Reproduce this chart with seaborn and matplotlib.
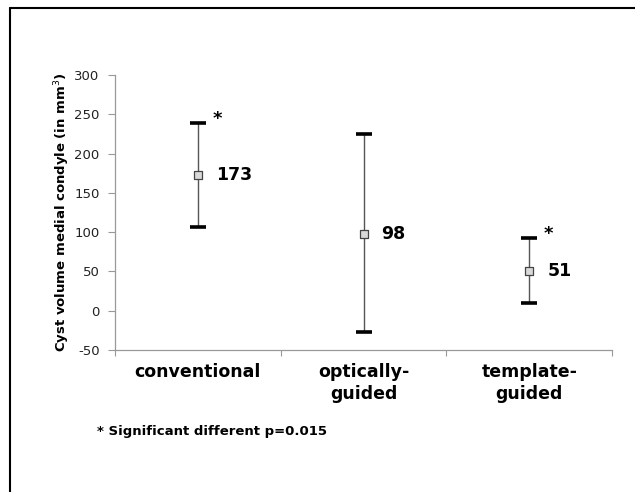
import numpy as np
import pandas as pd
import matplotlib
matplotlib.use("Agg")
import matplotlib.pyplot as plt
import seaborn as sns

# data
groups = ["conventional", "optically-\nguided", "template-\nguided"]
means = [173, 98, 51]
upper = [239, 225, 92]
lower = [107, -27, 10]
significant = [True, False, True]

df = pd.DataFrame({"pos": np.arange(len(groups)), "mean": means,
                   "upper": upper, "lower": lower})

sns.set_style("white")
plt.rcParams["font.family"] = ["DejaVu Sans"]
plt.rcParams["axes.unicode_minus"] = False
plt.rcParams["text.color"] = "black"
plt.rcParams["axes.labelcolor"] = "black"

fig = plt.figure(figsize=(6.35, 4.92), dpi=100)
ax = fig.add_axes([0.181, 0.2886, 0.783, 0.559])

# error bars: grey stems, thick black caps
err = ax.errorbar(df["pos"], df["mean"],
                  yerr=[df["mean"] - df["lower"], df["upper"] - df["mean"]],
                  fmt="none", ecolor="#555555", elinewidth=1.0,
                  capsize=5.5, capthick=2.6, zorder=2)
for cap in err[1]:
    cap.set_markeredgecolor("black")
    cap.set_markerfacecolor("black")

sns.scatterplot(data=df, x="pos", y="mean", marker="s", s=40,
                color="#d9d9d9", edgecolor="#444444", linewidth=0.9,
                ax=ax, zorder=3, legend=False)

# value labels and asterisks
for i, row in df.iterrows():
    ax.annotate(f"{row['mean']:.0f}", (row["pos"], row["mean"]),
                xytext=(13, 0), textcoords="offset points",
                ha="left", va="center", fontsize=12.5, fontweight="bold")
    if significant[i]:
        ax.annotate("*", (row["pos"], row["upper"]),
                    xytext=(14, 3), textcoords="offset points",
                    ha="center", va="center", fontsize=13, fontweight="bold")

ax.set_xlim(-0.5, 2.5)
ax.set_ylim(-50, 300)
ax.set_yticks(np.arange(-50, 301, 50))
ax.set_xticks([-0.5, 0.5, 1.5, 2.5])
ax.set_xticklabels([])
ax.set_xticks(np.arange(len(groups)), minor=True)
ax.set_xticklabels(groups, minor=True, fontsize=12.5, fontweight="bold",
                   linespacing=1.35, color="black")
ax.tick_params(axis="x", which="minor", length=0, pad=9)
ax.tick_params(axis="x", which="major", length=4, color="#999999",
               direction="out", bottom=True)
ax.tick_params(axis="y", length=5, color="#999999", direction="out",
               left=True, labelsize=9.5, labelcolor="#222222", pad=6)

for side in ["top", "right"]:
    ax.spines[side].set_visible(False)
for side in ["left", "bottom"]:
    ax.spines[side].set_color("#999999")
    ax.spines[side].set_linewidth(0.9)

ax.set_xlabel("")
ax.set_ylabel("Cyst volume medial condyle (in mm$^3$)", fontsize=9.5,
              fontweight="bold", labelpad=2)

fig.text(97 / 635, 1 - 432 / 492, "* Significant different p=0.015",
         fontsize=9.5, fontweight="bold", ha="left", va="center")

# outer frame (top and left edges only)
fig.add_artist(plt.Line2D([9.5 / 635, 9.5 / 635], [0, 1 - 8 / 492],
                          transform=fig.transFigure, color="black", lw=1.5))
fig.add_artist(plt.Line2D([9.5 / 635, 1], [1 - 8 / 492, 1 - 8 / 492],
                          transform=fig.transFigure, color="black", lw=1.5))

fig.savefig("out.png", dpi=100)
plt.close(fig)
